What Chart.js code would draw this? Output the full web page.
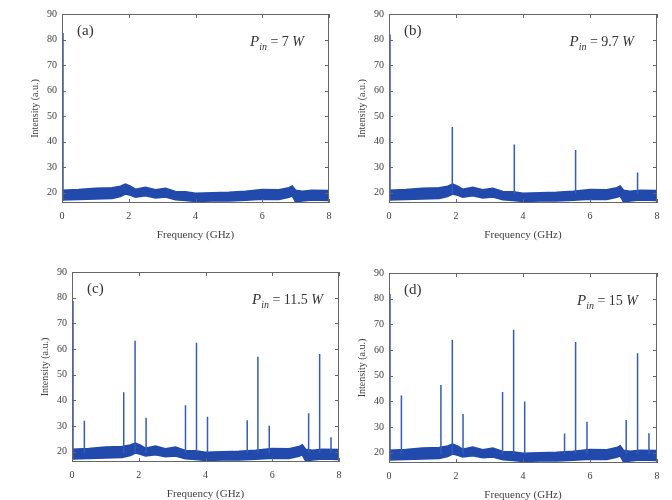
<!DOCTYPE html>
<html>
<head>
<meta charset="utf-8">
<script src="https://cdn.jsdelivr.net/npm/chart.js@4.4.1/dist/chart.umd.min.js"></script>
<style>
	body { margin: 0; background: #fff; }
	#wrap { position: relative; width: 672px; height: 500px; }
	.panel { position: absolute; }
</style>
</head>
<body>
<div id="wrap">
	<div class="panel" id="pa"><canvas id="ca"></canvas></div>
	<div class="panel" id="pb"><canvas id="cb"></canvas></div>
	<div class="panel" id="pc"><canvas id="cc"></canvas></div>
	<div class="panel" id="pd"><canvas id="cd"></canvas></div>
</div>
<script>
// noise floor envelope, same in all four spectra
const bandFreq  = [0, 0.5, 1.0, 1.5, 1.75, 1.9, 2.05, 2.2, 2.5, 2.8, 3.1, 3.4, 3.7, 4.0, 4.5, 5.0, 5.5, 6.0, 6.5, 6.8, 6.9, 7.0, 7.2, 7.5, 8.0];
const bandUpper = [21.0, 21.3, 21.8, 22.0, 22.6, 23.4, 22.6, 21.4, 22.2, 21.2, 21.8, 20.5, 20.4, 19.8, 20.0, 20.2, 20.6, 21.3, 21.2, 22.0, 22.7, 21.0, 20.6, 21.0, 20.9];
const bandLower = [17.2, 17.4, 17.6, 17.8, 18.5, 19.5, 19.0, 18.3, 18.8, 18.0, 18.3, 17.3, 17.0, 16.6, 16.8, 16.8, 17.1, 17.5, 17.4, 18.2, 18.8, 16.4, 16.8, 17.2, 17.0];

const xTicks = [0, 2, 4, 6, 8];
const yTicks = [20, 30, 40, 50, 60, 70, 80, 90];

// peaks (GHz, a.u.)
const peakFreqA = [0.03];
const peakHeightA = [82.6];

const peakFreqB = [0.03, 1.89, 3.74, 5.57, 7.42];
const peakHeightB = [82, 45.8, 38.9, 36.8, 27.9];

const peakFreqC = [0.03, 0.37, 1.55, 1.89, 2.22, 3.40, 3.73, 4.06, 5.25, 5.57, 5.91, 7.09, 7.42, 7.76];
const peakHeightC = [78.7, 32.1, 43.2, 63.2, 33.2, 38.1, 62.4, 33.6, 32.3, 57.0, 30.1, 35.0, 58.1, 25.6];

const peakFreqD = [0.03, 0.37, 1.55, 1.89, 2.21, 3.39, 3.72, 4.05, 5.24, 5.57, 5.91, 7.08, 7.42, 7.76];
const peakHeightD = [81.8, 42.3, 46.4, 64.0, 35.1, 43.7, 67.9, 40.0, 27.5, 63.1, 32.1, 32.7, 58.7, 27.6];

const serif = "'Liberation Serif', 'DejaVu Serif', serif";
const textColor = '#404040';
const bandColor = 'rgb(34, 74, 172)';
const peakColor = 'rgb(52, 92, 186)';

const yW = 37, xH = 43, padTop = 10, padR = 10;

const panels = [
	{ box: 'pa', canvas: 'ca', tag: '(a)', power: '7', freqs: peakFreqA, heights: peakHeightA, area: [62, 13, 329, 203], tagDx: 15, pinDx: 25 },
	{ box: 'pb', canvas: 'cb', tag: '(b)', power: '9.7', freqs: peakFreqB, heights: peakHeightB, area: [389, 13, 657, 203], tagDx: 15, pinDx: 23 },
	{ box: 'pc', canvas: 'cc', tag: '(c)', power: '11.5', freqs: peakFreqC, heights: peakHeightC, area: [72, 271, 339, 462], tagDx: 15, pinDx: 16 },
	{ box: 'pd', canvas: 'cd', tag: '(d)', power: '15', freqs: peakFreqD, heights: peakHeightD, area: [389, 272, 657, 463], tagDx: 15, pinDx: 19 },
];

function peakPoints(freqs, heights) {
	const pts = [];
	freqs.forEach((f, i) => {
		pts.push({ x: f, y: f < 0.1 ? 17 : 19.5 });
		pts.push({ x: f, y: heights[i] });
		pts.push({ x: f, y: null });
	});
	return pts;
}

// box with inward ticks on all sides, plus labels
const framePlugin = {
	id: 'frame',
	afterDraw(chart, args, opts) {
		const ctx = chart.ctx;
		const a = chart.chartArea;
		const xs = chart.scales.x, ys = chart.scales.y;
		ctx.save();
		ctx.strokeStyle = '#666';
		ctx.lineWidth = 1;
		ctx.strokeRect(a.left + 0.5, a.top + 0.5, a.right - a.left - 1, a.bottom - a.top - 1);
		ctx.beginPath();
		xTicks.forEach(v => {
			const px = Math.round(xs.getPixelForValue(v)) + 0.5;
			ctx.moveTo(px, a.bottom); ctx.lineTo(px, a.bottom - 4);
			ctx.moveTo(px, a.top); ctx.lineTo(px, a.top + 4);
		});
		yTicks.forEach(v => {
			const py = Math.round(ys.getPixelForValue(v)) + 0.5;
			ctx.moveTo(a.left, py); ctx.lineTo(a.left + 4, py);
			ctx.moveTo(a.right, py); ctx.lineTo(a.right - 4, py);
		});
		ctx.stroke();

		ctx.fillStyle = '#333';
		ctx.textBaseline = 'alphabetic';
		ctx.textAlign = 'left';
		ctx.font = '15px ' + serif;
		ctx.fillText(opts.tag, a.left + opts.tagDx, a.top + 21);

		// P_in = N W, right aligned
		const parts = [
			['italic 15px ' + serif, 'P', 0],
			['italic 10px ' + serif, 'in', 4],
			['14px ' + serif, ' = ' + opts.power + ' ', 0],
			['italic 14px ' + serif, 'W', 0],
		];
		let total = 0;
		parts.forEach(p => { ctx.font = p[0]; total += ctx.measureText(p[1]).width; });
		let x = a.right - opts.pinDx - total;
		const base = a.top + 32;
		parts.forEach(p => {
			ctx.font = p[0];
			ctx.fillText(p[1], x, base + p[2]);
			x += ctx.measureText(p[1]).width;
		});
		ctx.restore();
	}
};

panels.forEach(p => {
	const [L, T, R, B] = p.area;
	const box = document.getElementById(p.box);
	box.style.left = (L - yW) + 'px';
	box.style.top = (T - padTop) + 'px';
	box.style.width = (R - L + yW + padR) + 'px';
	box.style.height = (B - T + padTop + xH) + 'px';

	new Chart(document.getElementById(p.canvas), {
		type: 'scatter',
		data: {
			datasets: [
				{
					data: peakPoints(p.freqs, p.heights),
					showLine: true, spanGaps: false,
					borderColor: peakColor, borderWidth: 1.5,
					pointRadius: 0,
				},
				{
					data: bandFreq.map((f, i) => ({ x: f, y: bandUpper[i] })),
					showLine: true, fill: '+1',
					borderColor: bandColor, backgroundColor: bandColor, borderWidth: 1.5,
					pointRadius: 0,
				},
				{
					data: bandFreq.map((f, i) => ({ x: f, y: bandLower[i] })),
					showLine: true, fill: false,
					borderColor: bandColor, borderWidth: 1.5,
					pointRadius: 0,
				},
			],
		},
		options: {
			responsive: true,
			maintainAspectRatio: false,
			animation: false,
			layout: { padding: { top: padTop, right: padR, left: 0, bottom: 0 } },
			plugins: {
				legend: { display: false },
				tooltip: { enabled: false },
				frame: { tag: p.tag, power: p.power, tagDx: p.tagDx, pinDx: p.pinDx },
			},
			scales: {
				x: {
					type: 'linear', min: 0, max: 8,
					afterBuildTicks: s => { s.ticks = xTicks.map(v => ({ value: v })); },
					afterFit: s => { s.height = xH; },
					grid: { display: false, drawTicks: false },
					border: { display: false },
					ticks: { color: textColor, font: { family: serif, size: 10 }, padding: 7, maxRotation: 0 },
					title: { display: true, text: 'Frequency (GHz)', color: textColor, font: { family: serif, size: 11 }, padding: { top: 4, bottom: 4 } },
				},
				y: {
					type: 'linear', min: 16, max: 90,
					afterBuildTicks: s => { s.ticks = yTicks.map(v => ({ value: v })); },
					afterFit: s => { s.width = yW; },
					grid: { display: false, drawTicks: false },
					border: { display: false },
					ticks: { color: textColor, font: { family: serif, size: 10 }, padding: 5 },
					title: { display: true, text: 'Intensity (a.u.)', color: textColor, font: { family: serif, size: 10 }, padding: { top: 4, bottom: 4 } },
				},
			},
		},
		plugins: [framePlugin],
	});
});
</script>
</body>
</html>
